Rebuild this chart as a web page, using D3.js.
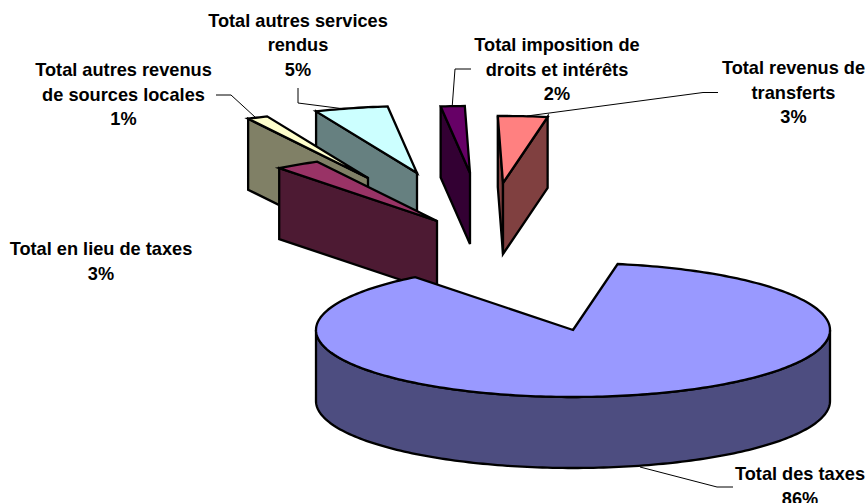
<!DOCTYPE html>
<html>
<head>
<meta charset="utf-8">
<script src="https://cdn.jsdelivr.net/npm/d3@7"></script>
<style>
  html, body { margin: 0; padding: 0; background: #fff; overflow: hidden; }
  text { font-family: "Liberation Sans", Arial, sans-serif; font-weight: bold; font-size: 18.2px; fill: #000; text-anchor: middle; }
</style>
</head>
<body>
<div id="chart"></div>
<script>
const categories = ['Total des taxes', 'Total en lieu de taxes', 'Total autres revenus de sources locales', 'Total autres services rendus', 'Total imposition de droits et intérêts', 'Total revenus de transferts'];
// shares, the labels show them rounded
const shares = [86.7, 2.8, 1.3, 4.6, 1.5, 3.1];
const percentLabels = ['86%', '3%', '1%', '5%', '2%', '3%'];
const topColors = ['#9999ff', '#993366', '#ffffcc', '#ccffff', '#660066', '#ff8080'];
const sideColors = ['#4d4d80', '#4d1a33', '#808066', '#668080', '#330033', '#804040'];

// how far each slice is pulled away from the pie centre
const explodeX = [0, -136, -205, -156, -103, -70];
const explodeY = [0, -109, -152, -157, -157, -147];
const drawOrder = [3, 2, 1, 4, 5, 0];

const labelLines = [
  ['Total des taxes'],
  ['Total en lieu de taxes'],
  ['Total autres revenus', 'de sources locales'],
  ['Total autres services', 'rendus'],
  ['Total imposition de', 'droits et intérêts'],
  ['Total revenus de', 'transferts']
];
const labelX = [800, 101, 123.5, 298, 557, 793.5];
const labelY = [480, 255, 76, 26.5, 51, 74];
const lineGap = 24.6;

const leaders = [
  [[733, 487], [717, 487], [640, 467]],
  [],
  [[216, 95], [231, 95], [255, 117]],
  [[298, 88], [298, 103], [345, 109]],
  [[471, 69], [455, 69], [452, 109]],
  [[718, 92.5], [703, 92.5], [527, 116]]
];

const width = 868, height = 503;
const cx = 573, cy = 330, rx = 257, ry = 67, depth = 71;
const startAngle = 10 * Math.PI / 180;

const svg = d3.select('#chart').append('svg')
  .attr('width', width)
  .attr('height', height)
  .attr('viewBox', `0 0 ${width} ${height}`);

const slices = d3.pie().sort(null)
  .startAngle(startAngle)
  .endAngle(startAngle + 2 * Math.PI)(shares);

const line = d3.line();

// angle is clockwise from the top of the pie
function rim(a, dx, dy, drop = 0) {
  return [cx + dx + rx * Math.sin(a), cy + dy - ry * Math.cos(a) + drop];
}

function arcPoints(a0, a1, dx, dy, drop = 0) {
  const n = Math.max(2, Math.ceil(Math.abs(a1 - a0) / 0.02));
  return d3.range(n + 1).map(i => rim(a0 + (a1 - a0) * i / n, dx, dy, drop));
}

function drawSlice(i) {
  const s = slices[i];
  const dx = explodeX[i], dy = explodeY[i];
  const apex = [cx + dx, cy + dy];
  const apexLow = [apex[0], apex[1] + depth];
  const g = svg.append('g')
    .attr('stroke', '#000')
    .attr('stroke-width', 2.3)
    .attr('stroke-linejoin', 'miter');

  const face = pts => g.append('path')
    .attr('d', line(pts) + 'Z')
    .attr('fill', sideColors[i]);

  // cut faces, only the ones turned toward the viewer
  if (Math.sin(s.startAngle) < 0) {
    face([rim(s.startAngle, dx, dy), apex, apexLow, rim(s.startAngle, dx, dy, depth)]);
  }
  if (Math.sin(s.endAngle) > 0) {
    face([rim(s.endAngle, dx, dy), apex, apexLow, rim(s.endAngle, dx, dy, depth)]);
  }

  // outer wall, front half of the ellipse
  const wallFrom = Math.max(s.startAngle, Math.PI / 2);
  const wallTo = Math.min(s.endAngle, 3 * Math.PI / 2);
  if (wallTo > wallFrom) {
    face(arcPoints(wallFrom, wallTo, dx, dy).concat(arcPoints(wallTo, wallFrom, dx, dy, depth)));
  }

  g.append('path')
    .attr('d', line([apex].concat(arcPoints(s.startAngle, s.endAngle, dx, dy))) + 'Z')
    .attr('fill', topColors[i]);
}

leaders.forEach(pts => {
  if (!pts.length) return;
  svg.append('path')
    .attr('d', line(pts))
    .attr('fill', 'none')
    .attr('stroke', '#000')
    .attr('stroke-width', 1);
});

drawOrder.forEach(drawSlice);

categories.forEach((name, i) => {
  const t = svg.append('text').attr('aria-label', name);
  labelLines[i].concat(percentLabels[i]).forEach((str, k) => {
    t.append('tspan')
      .attr('x', labelX[i])
      .attr('y', labelY[i] + k * lineGap)
      .text(str);
  });
});
</script>
</body>
</html>
